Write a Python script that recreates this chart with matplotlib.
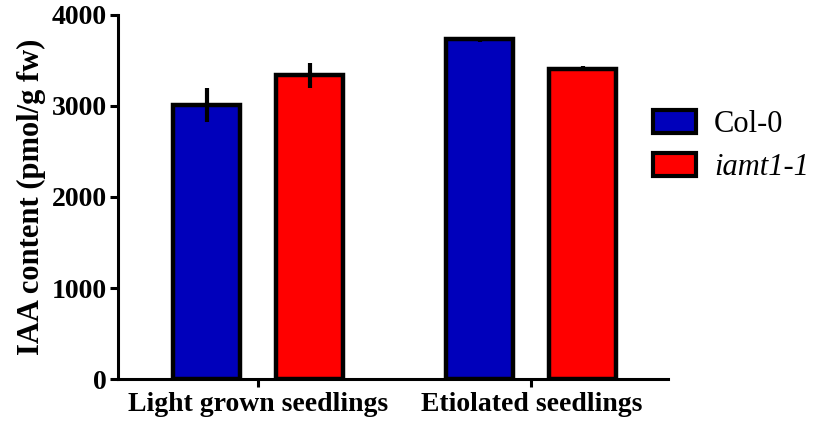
import numpy as np
import matplotlib
matplotlib.use("Agg")
import matplotlib.pyplot as plt

# data
groups = ["Light grown seedlings", "Etiolated seedlings"]
series = ["Col-0", "iamt1-1"]
col0 = [3010, 3730]
col0_err = [185, 30]
iamt = [3335, 3410]
iamt_err = [135, 25]
colors = ["#0000BB", "#FF0000"]

plt.rcParams.update({
    "font.family": ["Liberation Serif", "DejaVu Serif"],
    "font.weight": "bold",
})

fig = plt.figure(figsize=(8.14, 4.24), dpi=100)
ax = fig.add_axes([0.145, 0.106, 0.676, 0.859])

x = np.arange(len(groups))
w = 0.245
off = 0.189
ax.bar(x - off, col0, w, yerr=col0_err, color=colors[0], edgecolor="black",
       linewidth=3.2, error_kw=dict(ecolor="black", elinewidth=3, capsize=0),
       label=series[0], zorder=2)
ax.bar(x + off, iamt, w, yerr=iamt_err, color=colors[1], edgecolor="black",
       linewidth=3.2, error_kw=dict(ecolor="black", elinewidth=3, capsize=0),
       label=series[1], zorder=2)

ax.set_xlim(-0.513, 1.502)
ax.set_ylim(0, 4000)
ax.set_yticks([0, 1000, 2000, 3000, 4000])
ax.set_xticks(x)
ax.set_xticklabels(groups, fontsize=20, fontweight="bold")
ax.tick_params(axis="y", labelsize=20, width=2.2, length=6, pad=2)
ax.tick_params(axis="x", width=2.2, length=6, pad=3)
for t in ax.get_yticklabels():
    t.set_fontweight("bold")
ax.set_ylabel("IAA content (pmol/g fw)", fontsize=22, fontweight="bold", labelpad=4)

for s in ["top", "right"]:
    ax.spines[s].set_visible(False)
for s in ["left", "bottom"]:
    ax.spines[s].set_linewidth(2.2)

leg = ax.legend(loc="upper left", bbox_to_anchor=(0.972, 0.738), frameon=False,
                borderpad=0, borderaxespad=0,
                handlelength=1.4, handleheight=0.75, handletextpad=0.6,
                labelspacing=0.45, prop={"size": 22, "weight": "normal"})
leg.get_texts()[1].set_fontstyle("italic")
for h in leg.legend_handles:
    h.set_linewidth(3)

fig.savefig("out.png", dpi=100)
